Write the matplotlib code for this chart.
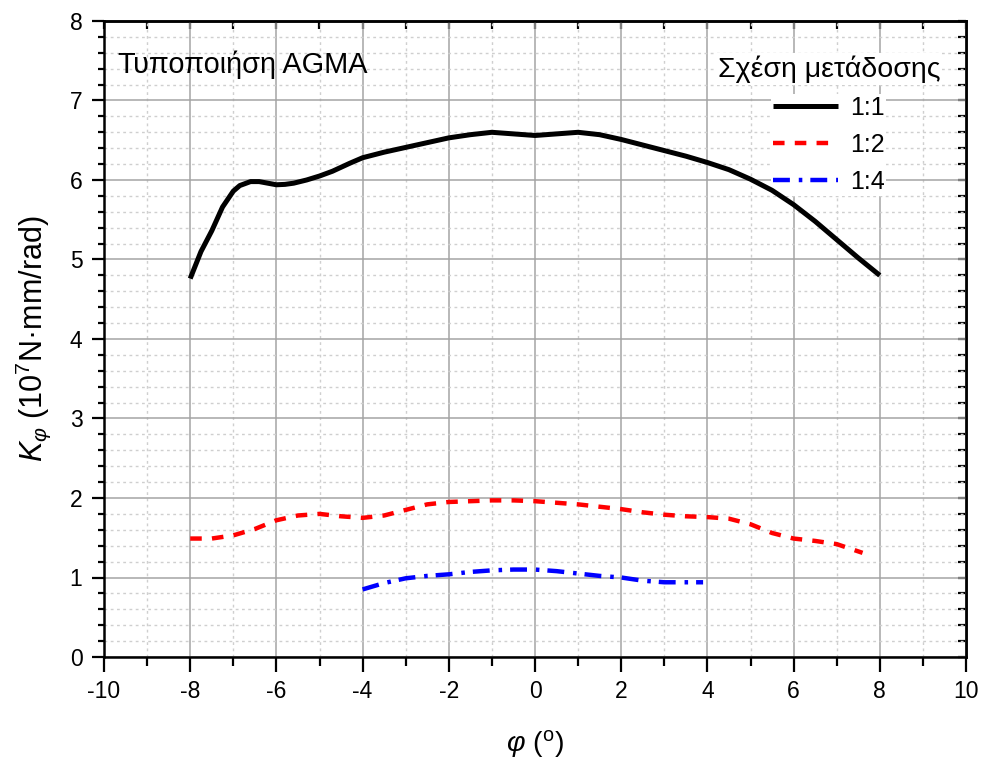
import matplotlib
matplotlib.use("Agg")
import matplotlib.pyplot as plt
from matplotlib.ticker import MultipleLocator
from matplotlib.patches import Rectangle

plt.rcParams['font.family'] = ['Liberation Sans', 'DejaVu Sans']
plt.rcParams['mathtext.fontset'] = 'custom'
plt.rcParams['mathtext.rm'] = 'Liberation Sans'
plt.rcParams['mathtext.it'] = 'Liberation Sans:italic'
plt.rcParams['axes.unicode_minus'] = False

# Stiffness K_phi (10^7 N·mm/rad) versus angle phi (deg) for three gear ratios
phi_11 = [-8.0, -7.75, -7.5, -7.25, -7.0, -6.85, -6.6, -6.4, -6.2, -6.0, -5.8,
          -5.6, -5.3, -5.0, -4.7, -4.3, -4.0, -3.5, -3.0, -2.5, -2.0, -1.5,
          -1.0, -0.5, 0.0, 0.5, 1.0, 1.5, 2.0, 2.5, 3.0, 3.5, 4.0, 4.5, 5.0,
          5.5, 6.0, 6.5, 7.0, 7.5, 8.0]
k_11 = [4.76, 5.10, 5.36, 5.66, 5.86, 5.93, 5.98, 5.98, 5.96, 5.94, 5.945,
        5.96, 6.00, 6.05, 6.11, 6.21, 6.28, 6.35, 6.41, 6.47, 6.53, 6.57,
        6.60, 6.58, 6.56, 6.58, 6.60, 6.57, 6.51, 6.44, 6.37, 6.30, 6.22,
        6.13, 6.01, 5.87, 5.69, 5.48, 5.25, 5.02, 4.80]

phi_12 = [-8.0, -7.5, -7.0, -6.5, -6.0, -5.5, -5.0, -4.5, -4.0, -3.5, -3.0, -2.5,
          -2.0, -1.5, -1.0, -0.5, 0.0, 0.5, 1.0, 1.5, 2.0, 2.5, 3.0, 3.5, 4.0,
          4.5, 5.0, 5.5, 6.0, 6.5, 7.0, 7.6]
k_12 = [1.49, 1.49, 1.53, 1.61, 1.72, 1.78, 1.80, 1.77, 1.75, 1.78, 1.85, 1.92,
        1.95, 1.96, 1.97, 1.97, 1.96, 1.94, 1.92, 1.89, 1.86, 1.82, 1.79, 1.77,
        1.76, 1.74, 1.67, 1.56, 1.49, 1.46, 1.42, 1.31]

phi_14 = [-4.0, -3.5, -3.0, -2.5, -2.0, -1.5, -1.0, -0.5, 0.0, 0.5, 1.0, 1.5,
          2.0, 2.5, 3.0, 3.5, 3.9]
k_14 = [0.85, 0.93, 0.99, 1.02, 1.04, 1.07, 1.09, 1.10, 1.10, 1.08, 1.05, 1.02,
        1.00, 0.96, 0.94, 0.94, 0.94]

series_labels = ['1:1', '1:2', '1:4']
legend_title = 'Σχέση μετάδοσης'
note_text = 'Τυποποιήση AGMA'

fig = plt.figure(figsize=(9.84, 7.6), dpi=100)
ax = fig.add_axes([104 / 984, 1 - 657 / 760, 862 / 984, 636 / 760])

ax.plot(phi_11, k_11, color='black', lw=3.6, solid_capstyle='butt',
        solid_joinstyle='round', label=series_labels[0], zorder=3)
ax.plot(phi_12, k_12, color='#ff0000', lw=3.2, dashes=(2.6, 2.3),
        dash_capstyle='butt', label=series_labels[1], zorder=3)
ax.plot(phi_14, k_14, color='#0000ff', lw=3.2, dashes=(3.8, 2.0, 0.8, 1.8),
        dash_capstyle='butt', label=series_labels[2], zorder=3)

ax.set_xlim(-10, 10)
ax.set_ylim(0, 8)
ax.xaxis.set_major_locator(MultipleLocator(2))
ax.xaxis.set_minor_locator(MultipleLocator(1))
ax.yaxis.set_major_locator(MultipleLocator(1))
ax.yaxis.set_minor_locator(MultipleLocator(0.2))

ax.grid(which='major', color='#a4a4a4', lw=1.1, ls='-', zorder=0)
ax.grid(which='minor', color='#cfcfcf', lw=1.0, ls=(0, (2, 2.5)), zorder=0)
ax.set_axisbelow(True)

for s in ax.spines.values():
    s.set_linewidth(1.8)

ax.tick_params(which='both', direction='out', width=1.6, labelsize=16.5)
ax.tick_params(axis='x', which='major', length=10.5, pad=6)
ax.tick_params(axis='x', which='minor', length=6.5)
ax.tick_params(axis='y', which='major', length=8.5, pad=7)
ax.tick_params(axis='y', which='minor', length=4.5)

# inward ticks on the top and right edges
top = ax.secondary_xaxis('top')
top.set_xticks(range(-10, 11, 1))
top.tick_params(direction='in', length=5.5, width=1.6, labeltop=False)
top.spines['top'].set_linewidth(1.8)
right = ax.secondary_yaxis('right')
right.set_yticks([i * 0.2 for i in range(41)])
right.tick_params(direction='in', length=5.5, width=1.6, labelright=False)
right.spines['right'].set_linewidth(1.8)

ax.set_xlabel('$\\mathit{φ}$ ($^{\\mathrm{o}}$)', fontsize=20.5, labelpad=18)
ax.set_ylabel('$\\mathit{K}_{\\mathit{φ}}$ (10$^{7}$N·mm/rad)', fontsize=22,
              labelpad=12)

ax.text(0.016, 0.918, note_text, transform=ax.transAxes, fontsize=20.8,
        va='baseline', ha='left', zorder=5)

leg = ax.legend(title=legend_title, loc='upper center',
                bbox_to_anchor=(0.841, 0.946), fontsize=18, title_fontsize=20.5,
                frameon=False, borderpad=0.0, handlelength=2.6,
                handletextpad=0.45, labelspacing=0.52, borderaxespad=0.0)
leg.set_zorder(6)

# white backing behind the legend title and behind the legend rows
fig.canvas.draw()
renderer = fig.canvas.get_renderer()
to_axes = ax.transAxes.inverted()
for box in (leg.get_title().get_window_extent(renderer),
            leg._legend_handle_box.get_window_extent(renderer)):
    (x0, y0), (x1, y1) = to_axes.transform([[box.x0 - 2, box.y0 - 2],
                                            [box.x1 + 2, box.y1 + 2]])
    ax.add_patch(Rectangle((x0, y0), x1 - x0, y1 - y0, transform=ax.transAxes,
                           facecolor='white', edgecolor='none', zorder=2.5))

fig.savefig('out.png', dpi=100)
